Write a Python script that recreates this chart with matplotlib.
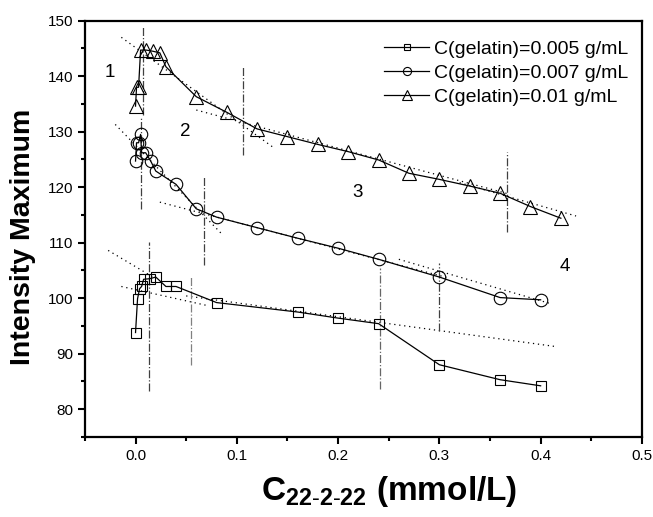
import matplotlib.pyplot as plt
from matplotlib.ticker import MultipleLocator

plt.rcParams.update({
    "font.family": "Liberation Sans",
    "mathtext.fontset": "custom",
    "mathtext.rm": "Liberation Sans",
    "mathtext.bf": "Liberation Sans:bold",
})

# ── Data ──────────────────────────────────────────────────────────────────────
x_005 = [0.0, 0.002, 0.004, 0.006, 0.008, 0.014, 0.02, 0.03, 0.04, 0.08,
         0.16, 0.20, 0.24, 0.30, 0.36, 0.40]
y_005 = [93.8, 99.9, 101.7, 102.1, 103.4, 103.5, 103.8, 102.1, 102.1, 99.2,
         97.5, 96.4, 95.4, 88.0, 85.3, 84.2]

x_007 = [0.0, 0.001, 0.003, 0.005, 0.006, 0.010, 0.015, 0.02, 0.04, 0.06,
         0.08, 0.12, 0.16, 0.20, 0.24, 0.30, 0.36, 0.40]
y_007 = [124.7, 128.0, 128.0, 129.5, 126.2, 126.2, 124.7, 122.9, 120.5, 116.1,
         114.6, 112.7, 110.8, 109.0, 107.0, 103.8, 100.1, 99.7]

x_01 = [0.0, 0.001, 0.003, 0.005, 0.0105, 0.017, 0.024, 0.03, 0.06, 0.09,
        0.12, 0.15, 0.18, 0.21, 0.24, 0.27, 0.30, 0.33, 0.36, 0.39, 0.42]
y_01 = [134.6, 138.0, 138.0, 144.7, 144.7, 144.5, 144.2, 141.7, 136.3, 133.5,
        130.5, 129.1, 127.7, 126.4, 124.9, 122.5, 121.4, 120.2, 118.9, 116.5,
        114.4]

labels = ["C(gelatin)=0.005 g/mL", "C(gelatin)=0.007 g/mL", "C(gelatin)=0.01 g/mL"]

# dotted linear fits: (x0, x1, y0, y1)
fits = [
    (-0.014, 0.135, 147.0, 127.3),
    (0.06, 0.37, 133.9, 118.7),
    (0.32, 0.435, 120.8, 114.8),
    (-0.02, 0.085, 131.3, 111.6),
    (0.024, 0.31, 117.3, 103.6),
    (0.26, 0.41, 107.0, 99.0),
    (-0.027, 0.02, 108.6, 103.5),
    (-0.014, 0.07, 102.1, 98.7),
    (0.05, 0.414, 100.4, 91.3),
]

# vertical dash-dot boundaries: (x, ymin, ymax, colour)
bounds = [
    (0.007, 133.0, 148.9, "0.25"),
    (0.106, 125.8, 141.7, "0.25"),
    (0.367, 112.0, 126.4, "0.25"),
    (0.005, 116.0, 132.4, "0.25"),
    (0.068, 105.9, 122.0, "0.25"),
    (0.300, 94.1, 106.4, "0.25"),
    (0.013, 83.3, 110.2, "0.25"),
    (0.055, 88.0, 103.8, "0.5"),
    (0.241, 83.6, 105.4, "0.4"),
]

regions = [("1", -0.025, 140.7), ("2", 0.049, 130.1),
           ("3", 0.219, 119.1), ("4", 0.424, 105.7)]

# ── Figure ────────────────────────────────────────────────────────────────────
fig = plt.figure(figsize=(6.53, 5.17), dpi=100)
ax = fig.add_axes([0.130, 0.155, 0.853, 0.805])

for x0, x1, y0, y1 in fits:
    ax.plot([x0, x1], [y0, y1], color="black", linestyle=(0, (1, 3)),
            linewidth=0.9, zorder=2)

for xb, y0, y1, c in bounds:
    ax.plot([xb, xb], [y0, y1], color=c, linestyle="-.", linewidth=0.9,
            zorder=2)

series = [(x_005, y_005, "s", 7.5), (x_007, y_007, "o", 9), (x_01, y_01, "^", 10)]
for (xs, ys, mk, ms), lab in zip(series, labels):
    ax.plot(xs, ys, color="black", linewidth=0.9, marker=mk, markersize=ms,
            markerfacecolor="none", markeredgecolor="black",
            markeredgewidth=0.8, label=lab, zorder=3)

for txt, tx, ty in regions:
    ax.text(tx, ty, txt, fontsize=13.5, ha="center", va="center")

ax.set_xlim(-0.05, 0.5)
ax.set_ylim(75, 150)
ax.xaxis.set_major_locator(MultipleLocator(0.1))
ax.xaxis.set_minor_locator(MultipleLocator(0.05))
ax.yaxis.set_major_locator(MultipleLocator(10))
ax.yaxis.set_minor_locator(MultipleLocator(5))
ax.set_xticks([0.0, 0.1, 0.2, 0.3, 0.4, 0.5])
ax.set_yticks([80, 90, 100, 110, 120, 130, 140, 150])

for s in ax.spines.values():
    s.set_linewidth(1.6)
ax.tick_params(which="major", direction="out", length=5, width=1.5,
               labelsize=11, top=False, right=False)
ax.tick_params(which="minor", direction="out", length=3, width=1.5,
               top=False, right=False)

ax.set_ylabel("Intensity Maximum", fontsize=20.5, fontweight="bold")
ax.yaxis.set_label_coords(-0.088, 0.48)
ax.set_xlabel(r"$\mathbf{C}_{\mathbf{22\text{-}2\text{-}22}}$ (mmol/L)",
              fontsize=24, fontweight="bold")
ax.xaxis.set_label_coords(0.546, -0.09)

ax.legend(loc="upper right", bbox_to_anchor=(1.0, 0.985), frameon=False,
          fontsize=14, handlelength=2.3, handletextpad=0.26,
          labelspacing=0.33, borderaxespad=0.3, markerscale=0.65)

fig.savefig("out.png", dpi=100)
